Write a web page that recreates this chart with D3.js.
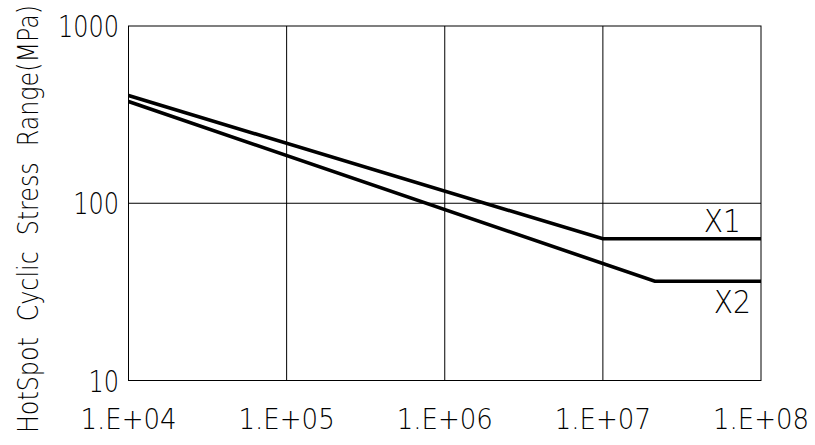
<!DOCTYPE html>
<html>
<head>
<meta charset="utf-8">
<script src="https://cdn.jsdelivr.net/npm/d3@7"></script>
<style>
  html, body { margin: 0; padding: 0; background: #fff; }
  svg { display: block; }
  text { font-family: "DejaVu Sans", sans-serif; font-weight: 200; fill: #000; }
</style>
</head>
<body>
<svg id="chart" width="815" height="445"></svg>
<script>
// S-N design curves: cycles vs hot-spot stress range (MPa)
const seriesNames = ["X1", "X2"];
const x1Cycles = [1e4, 1e7, 1e8];
const x1Stress = [405, 63, 63];
const x2Cycles = [1e4, 2.13e7, 1e8];
const x2Stress = [375, 36.3, 36.3];

const xTicks = [1e4, 1e5, 1e6, 1e7, 1e8];
const xTickLabels = ["1.E+04", "1.E+05", "1.E+06", "1.E+07", "1.E+08"];
const yTicks = [10, 100, 1000];
const yTickLabels = ["10", "100", "1000"];
const yTitle = "HotSpot Cyclic Stress Range(MPa)";

const svg = d3.select("#chart");
const plotL = 128.5, plotR = 761, plotT = 26, plotB = 380.5;

const x = d3.scaleLog().domain([1e4, 1e8]).range([plotL, plotR]);
const y = d3.scaleLog().domain([10, 1000]).range([plotB, plotT]);

// grid
svg.append("g").selectAll("line").data(xTicks.slice(1, -1)).join("line")
  .attr("x1", d => x(d)).attr("x2", d => x(d))
  .attr("y1", plotT).attr("y2", plotB)
  .attr("stroke", "#000").attr("stroke-width", 1);
svg.append("g").selectAll("line").data(yTicks.slice(1, -1)).join("line")
  .attr("x1", plotL).attr("x2", plotR)
  .attr("y1", d => y(d)).attr("y2", d => y(d))
  .attr("stroke", "#000").attr("stroke-width", 1);

// frame
svg.append("rect")
  .attr("x", plotL).attr("y", plotT)
  .attr("width", plotR - plotL).attr("height", plotB - plotT)
  .attr("fill", "none").attr("stroke", "#000").attr("stroke-width", 1);

// curves
const line = d3.line().x(d => x(d[0])).y(d => y(d[1]));
const curves = [
  d3.zip(x1Cycles, x1Stress),
  d3.zip(x2Cycles, x2Stress)
];
svg.append("g").selectAll("path").data(curves).join("path")
  .attr("d", line)
  .attr("fill", "none").attr("stroke", "#000")
  .attr("stroke-width", 3.6).attr("stroke-linejoin", "miter");

// narrow CAD-style lettering: horizontally squeezed text
function squeezedText(g, tx, ty, str, anchor, size, squeeze, rotate) {
  const t = g.append("g")
    .attr("transform", `translate(${tx},${ty})` + (rotate ? ` rotate(${rotate})` : "") + ` scale(${squeeze},1)`);
  return t.append("text").attr("text-anchor", anchor).attr("font-size", size).text(str);
}

// x tick labels
const gx = svg.append("g");
xTicks.forEach((d, i) => squeezedText(gx, x(d), 429, xTickLabels[i], "middle", 28, 0.93));

// y tick labels
const gy = svg.append("g");
yTicks.forEach((d, i) => squeezedText(gy, 119, y(d) + 11, yTickLabels[i], "end", 30, 0.8));

// series labels
squeezedText(svg, x(1e8) - 20, y(x1Stress[2]) - 7, seriesNames[0], "end", 32, 0.88);
squeezedText(svg, x(1e8) - 10, y(x2Stress[2]) + 32, seriesNames[1], "end", 32, 0.88);

// y axis title, words spread to span the full plot height
const titleSqueeze = 0.82, titleSpan = 428;
const title = squeezedText(svg, 38, 219, yTitle, "middle", 29, titleSqueeze, -90);
const natural = title.node().getComputedTextLength();
const gaps = yTitle.split(" ").length - 1;
title.attr("word-spacing", Math.max(0, (titleSpan / titleSqueeze - natural) / gaps));
</script>
</body>
</html>
